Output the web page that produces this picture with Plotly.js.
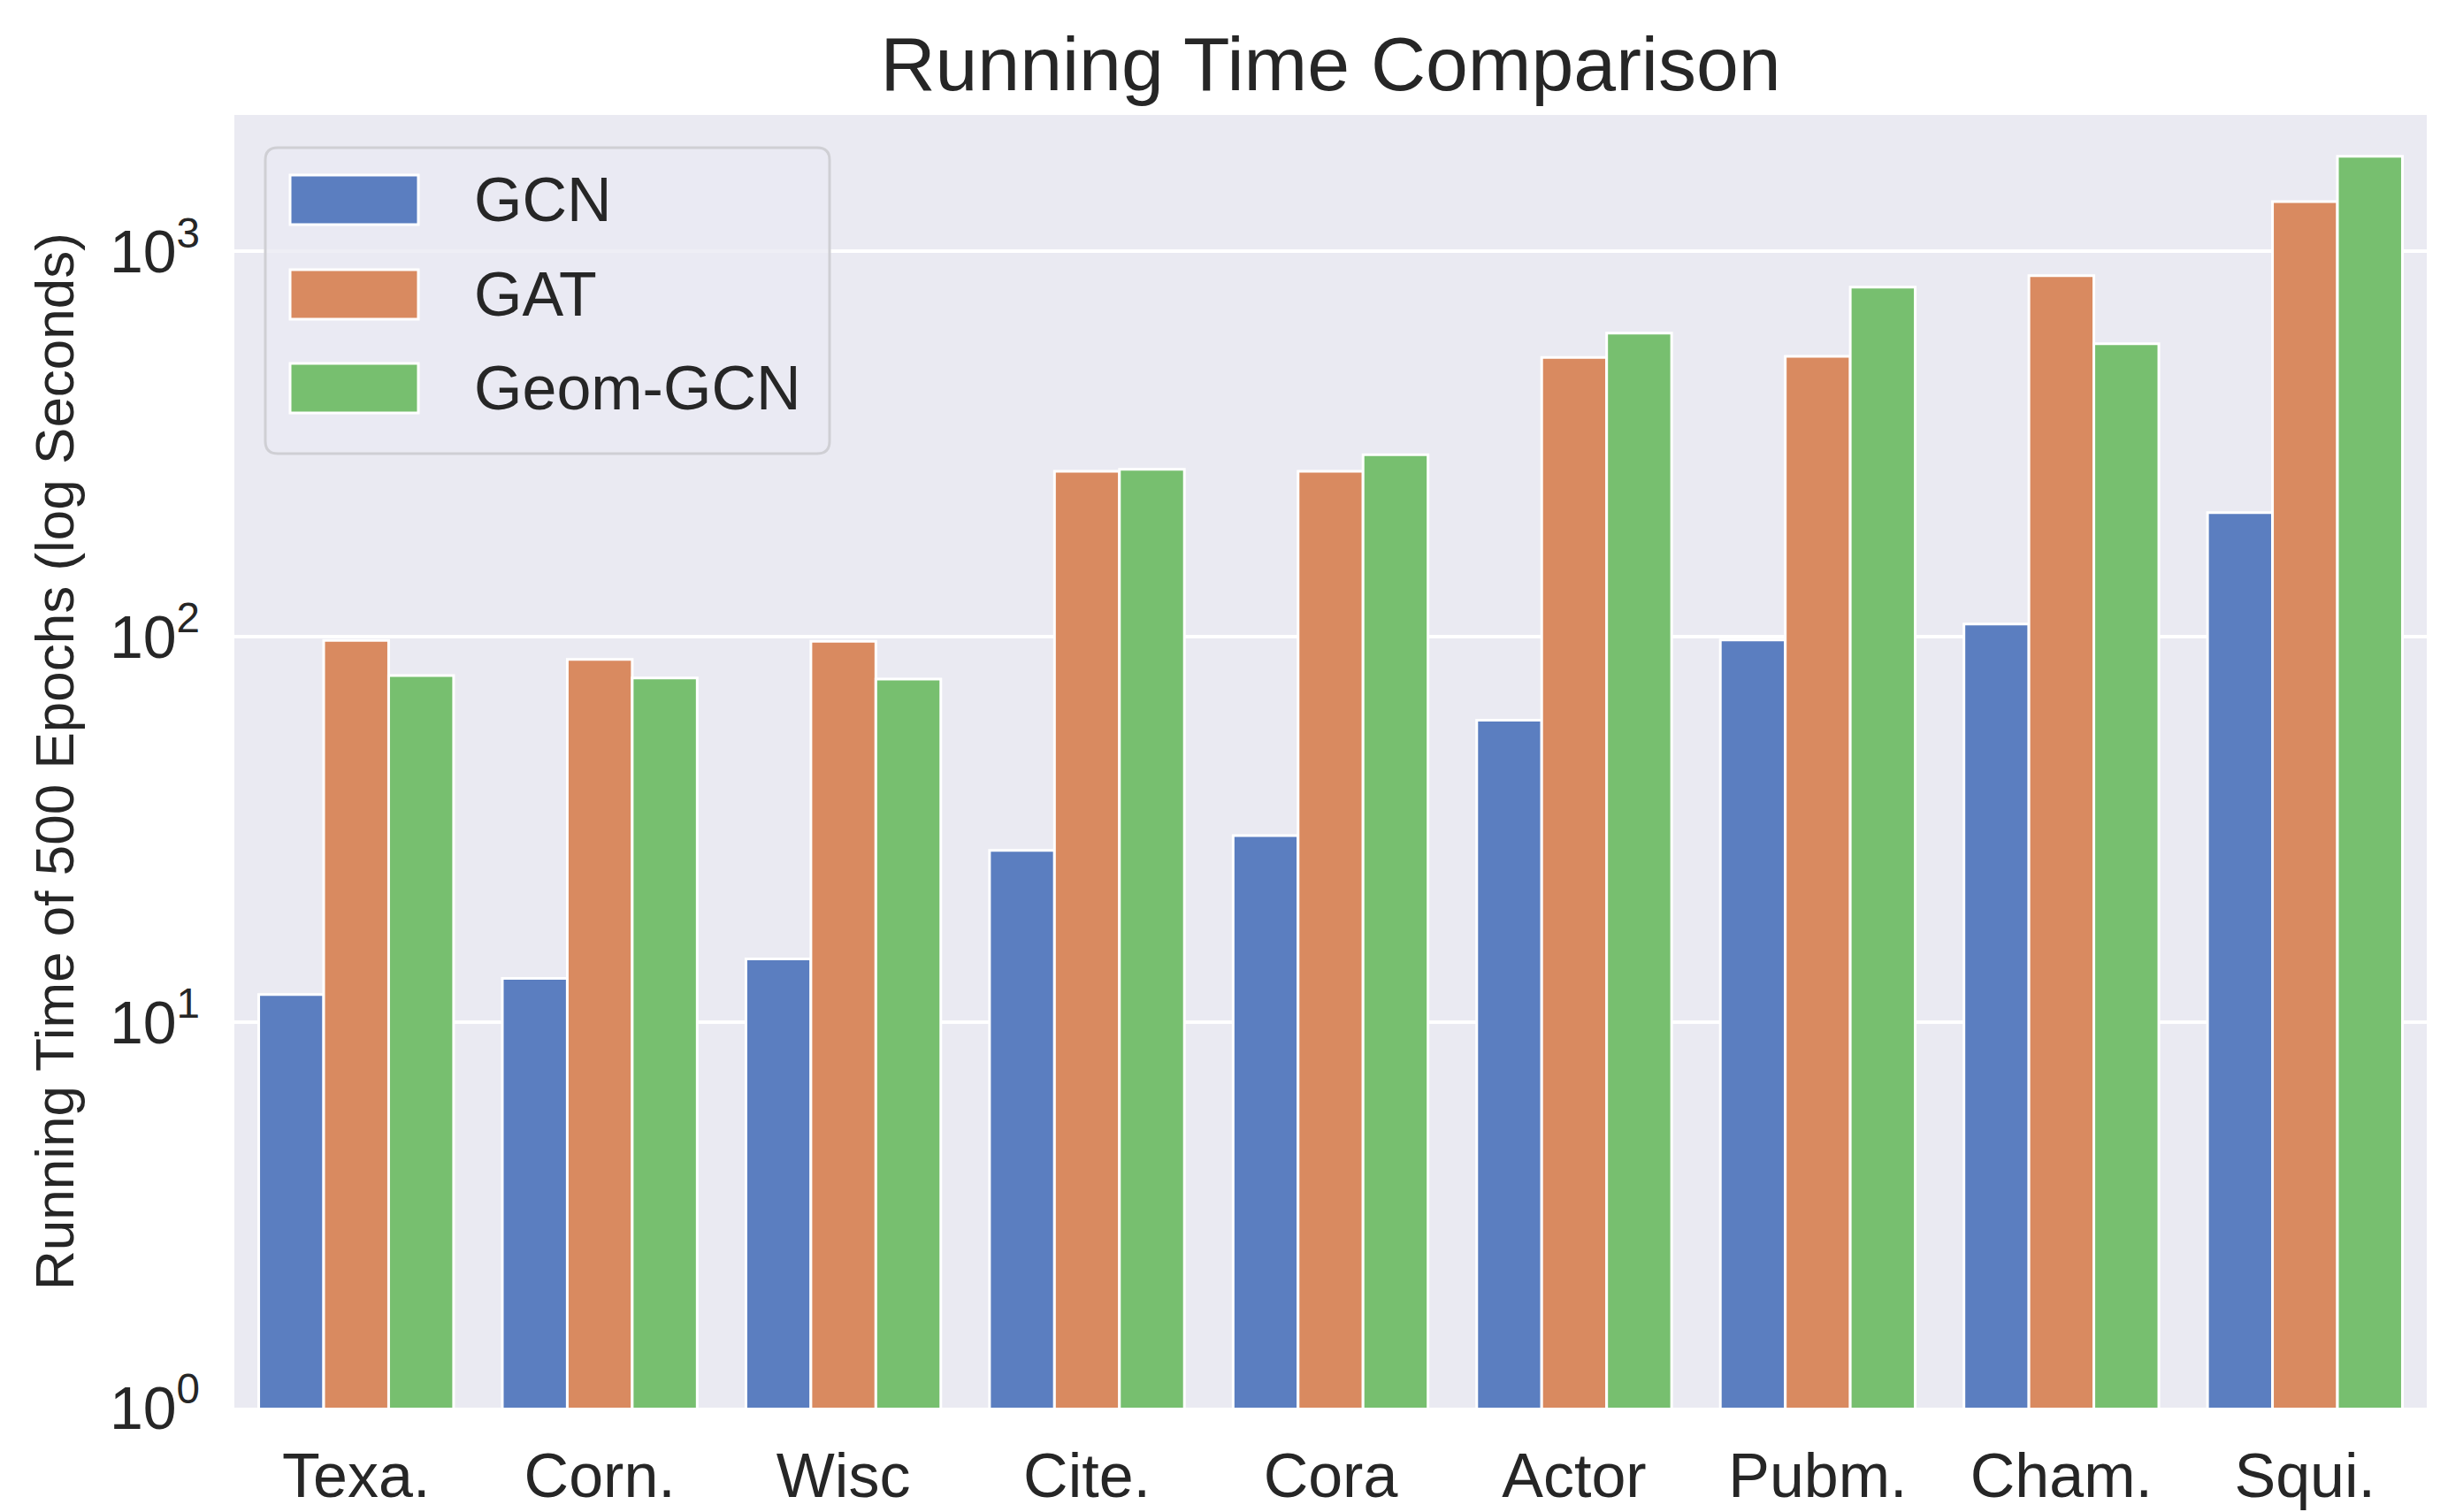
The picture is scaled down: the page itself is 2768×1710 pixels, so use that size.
<!DOCTYPE html>
<html>
<head>
<meta charset="utf-8">
<script src="https://cdn.plot.ly/plotly-3.0.1.min.js"></script>
<style>html,body{margin:0;padding:0;background:#fff}#chart{width:2768px;height:1710px}</style>
</head>
<body>
<div id="chart"></div>
<script>
const categories = ['Texa.', 'Corn.', 'Wisc', 'Cite.', 'Cora', 'Actor', 'Pubm.', 'Cham.', 'Squi.'];
const seriesNames = ['GCN', 'GAT', 'Geom-GCN'];
const gcnValues  = [11.8, 13.0, 14.6, 27.9, 30.5, 60.8, 98.1, 108, 210];
const gatValues  = [97.9, 87.4, 97.4, 269, 269, 531, 534, 865, 1346];
const geomValues = [79.3, 78.2, 77.7, 272, 297, 614, 808, 576, 1765];
const seriesColors = ['#5b7ec0', '#d98a60', '#77bf6f'];
const yTickVals = [1, 10, 100, 1000];
const yTickText = ['10<sup>0</sup>', '10<sup>1</sup>', '10<sup>2</sup>', '10<sup>3</sup>'];

const FONT = '"Liberation Sans", Arial, Helvetica, sans-serif';
const TXT = '#262626';
const W = 2768, H = 1710;
const M = {l: 265, r: 24, t: 130, b: 118};
const PW = W - M.l - M.r, PH = H - M.t - M.b;
const px = x => (x - M.l) / PW;
const py = y => (H - M.b - y) / PH;

const allValues = [gcnValues, gatValues, geomValues];
const traces = allValues.map((vals, i) => ({
  type: 'bar',
  name: seriesNames[i],
  x: categories,
  y: vals,
  marker: {color: seriesColors[i], line: {color: '#ffffff', width: 3}},
  showlegend: false,
  hoverinfo: 'x+y+name'
}));

// custom legend (matplotlib-style large patches)
const shapes = [];
const annotations = [];
const lx0 = 300, lx1 = 938, ly0 = 167, ly1 = 513, rr = 14;
const X = v => px(v), Y = v => py(v);
const legendPath = 'M ' + X(lx0 + rr) + ',' + Y(ly0) +
  ' L ' + X(lx1 - rr) + ',' + Y(ly0) +
  ' Q ' + X(lx1) + ',' + Y(ly0) + ' ' + X(lx1) + ',' + Y(ly0 + rr) +
  ' L ' + X(lx1) + ',' + Y(ly1 - rr) +
  ' Q ' + X(lx1) + ',' + Y(ly1) + ' ' + X(lx1 - rr) + ',' + Y(ly1) +
  ' L ' + X(lx0 + rr) + ',' + Y(ly1) +
  ' Q ' + X(lx0) + ',' + Y(ly1) + ' ' + X(lx0) + ',' + Y(ly1 - rr) +
  ' L ' + X(lx0) + ',' + Y(ly0 + rr) +
  ' Q ' + X(lx0) + ',' + Y(ly0) + ' ' + X(lx0 + rr) + ',' + Y(ly0) + ' Z';
shapes.push({type: 'path', xref: 'paper', yref: 'paper', path: legendPath,
  fillcolor: 'rgba(234,234,242,0.8)', line: {color: '#cfcfd4', width: 3}, layer: 'above'});
const rowCenters = [226, 333, 439];
seriesNames.forEach((n, i) => {
  const c = rowCenters[i];
  shapes.push({type: 'rect', xref: 'paper', yref: 'paper',
    x0: X(328), x1: X(473), y0: Y(c + 28), y1: Y(c - 28),
    fillcolor: seriesColors[i], line: {color: '#ffffff', width: 3}, layer: 'above'});
  annotations.push({xref: 'paper', yref: 'paper', x: X(534), y: Y(c),
    xanchor: 'left', yanchor: 'middle', text: n, showarrow: false,
    font: {family: FONT, size: 70, color: TXT}});
});

const layout = {
  width: W, height: H, autosize: false,
  margin: M,
  paper_bgcolor: '#ffffff',
  plot_bgcolor: '#eaeaf2',
  font: {family: FONT, color: TXT},
  title: {text: 'Running Time Comparison', font: {family: FONT, size: 86, color: TXT},
          x: 0.5, xref: 'paper', xanchor: 'center', y: 1 - 72 / H, yref: 'container', yanchor: 'middle'},
  barmode: 'group', bargap: 0.2, bargroupgap: 0,
  xaxis: {
    type: 'category', range: [-0.5, 8.5], showgrid: false, zeroline: false, showline: false,
    ticks: '', tickfont: {family: FONT, size: 70, color: TXT}, ticklabelstandoff: 30
  },
  yaxis: {
    type: 'log', range: [0, 3.354], tickvals: yTickVals, ticktext: yTickText,
    showgrid: true, gridcolor: '#ffffff', gridwidth: 4, zeroline: false, showline: false,
    ticks: '', tickfont: {family: FONT, size: 68, color: TXT}, ticklabelstandoff: 38,
    title: {text: 'Running Time of 500 Epochs (log Seconds)', font: {family: FONT, size: 62, color: TXT}, standoff: 20}
  },
  shapes: shapes,
  annotations: annotations
};

Plotly.newPlot('chart', traces, layout, {displayModeBar: false, staticPlot: true});
</script>
</body>
</html>
